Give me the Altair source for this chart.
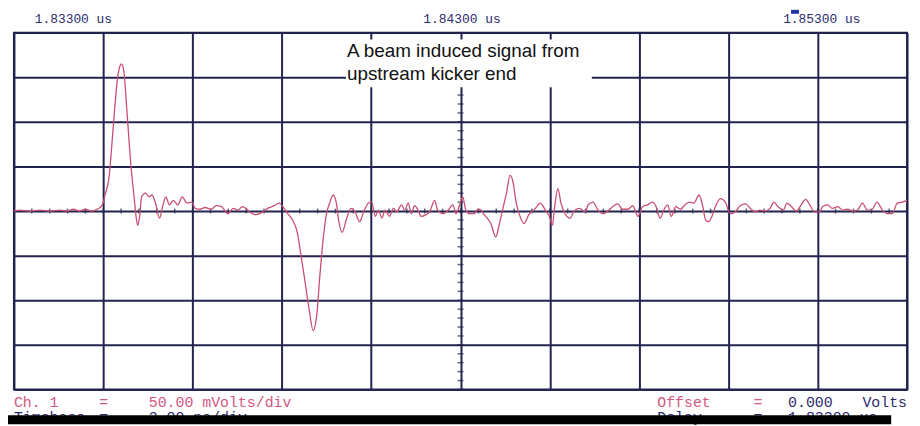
import altair as alt
import pandas as pd

# ---- data (time in ns after 1.83300 us, signal in mV) ----
time_ns = [0.00, 0.13, 0.36, 0.58, 0.80, 1.02, 1.20, 1.33, 1.47, 1.60, 1.73, 1.86, 1.98, 2.04,
           2.13, 2.20, 2.24, 2.32, 2.37, 2.40, 2.44, 2.46, 2.54, 2.61, 2.69, 2.74, 2.77, 2.81,
           2.86, 2.95, 3.02, 3.09, 3.17, 3.26, 3.33, 3.40, 3.48, 3.57, 3.67, 3.77, 3.87, 3.98,
           4.06, 4.17, 4.28, 4.42, 4.53, 4.65, 4.79, 4.91, 5.02, 5.11, 5.22, 5.28, 5.42, 5.57,
           5.68, 5.83, 5.94, 6.02, 6.13, 6.24, 6.35, 6.42, 6.50, 6.61, 6.70, 6.78, 6.85, 6.93,
           7.00, 7.07, 7.15, 7.22, 7.27, 7.35, 7.44, 7.55, 7.64, 7.74, 7.83, 7.94, 8.01, 8.09,
           8.16, 8.24, 8.31, 8.41, 8.50, 8.57, 8.68, 8.75, 8.83, 8.90, 8.97, 9.05, 9.12, 9.23,
           9.31, 9.42, 9.49, 9.61, 9.72, 9.83, 9.90, 9.97, 10.05, 10.12, 10.21, 10.31, 10.39,
           10.46, 10.53, 10.60, 10.68, 10.79, 10.86, 10.94, 11.03, 11.11, 11.17, 11.25, 11.32,
           11.42, 11.53, 11.64, 11.71, 11.79, 11.90, 11.99, 12.06, 12.10, 12.18, 12.25, 12.34,
           12.45, 12.56, 12.67, 12.79, 12.86, 12.97, 13.08, 13.19, 13.30, 13.41, 13.52, 13.63,
           13.75, 13.86, 13.97, 14.08, 14.19, 14.30, 14.38, 14.47, 14.56, 14.64, 14.72, 14.82,
           14.93, 15.01, 15.12, 15.23, 15.34, 15.41, 15.49, 15.56, 15.63, 15.71, 15.82, 15.93,
           16.04, 16.15, 16.26, 16.38, 16.49, 16.60, 16.71, 16.82, 16.93, 17.02, 17.11, 17.23,
           17.31, 17.41, 17.52, 17.63, 17.73, 17.82, 17.93, 18.04, 18.11, 18.22, 18.33, 18.45,
           18.56, 18.67, 18.78, 18.89, 19.00, 19.11, 19.22, 19.33, 19.45, 19.56, 19.67, 19.78,
           19.89, 20.00]
volt_mv = [0, 1, 0, 1, 0, 1, 0, 2, 0, 2, 0, 2, 7, 18,
           38, 79, 105, 149, 162, 165, 162, 157, 105, 57, 16, -8, -16, -8,
           16, 20, 16, 18, 9, -8, 5, 16, 7, 12, 7, 16, 9, 10,
           3, 2, 4, 2, 6, 5, -3, 3, 1, 5, 2, -1, -4, -1,
           3, 6, 9, 5, -3, -10, -25, -47, -73, -110, -134, -117, -73, -29,
           -3, 9, 18, 9, -10, -24, -10, 3, -1, -12, -1, 9, 10, -6,
           1, -8, 1, -6, 3, -1, 7, 1, 9, -3, 6, 1, -6, -4,
           -1, 12, 1, -3, 1, 7, -3, 5, 16, 1, -3, -3, 2,
           1, -4, -8, -14, -29, -17, 1, 20, 40, 34, 9, -4,
           -14, -4, 1, 5, 9, 1, -6, -16, 1, 25, 9, -3,
           -8, 1, 3, -1, 7, 10, 1, -3, 0, 5, 8, 2,
           2, 6, -6, 5, 7, 10, 5, -8, 2, 7, -6, 5,
           2, 6, 10, 9, 18, 9, -10, -12, -6, 5, 14, 10,
           -3, -1, 6, 8, 3, -1, 1, 0, 3, 10, 5, 1,
           9, 5, 0, 7, 13, 7, -1, -1, 5, 7, 3, 5,
           1, 2, 0, 1, 9, 1, 2, 10, 1, -3, -3, 9,
           10, 12]

x_divisions = [0, 2, 4, 6, 8, 10, 12, 14, 16, 18, 20]          # 2 ns/div
y_divisions = [-200, -150, -100, -50, 0, 50, 100, 150, 200]     # 50 mV/div
x_minor = [round(i * 0.4, 2) for i in range(51)]                # 5 minor marks per division
y_minor = [-200 + i * 10 for i in range(41)]

top_labels = ["1.83300 us", "1.84300 us", "1.85300 us"]
note_lines = ["A beam induced signal from", "upstream kicker end"]

GRID = "#23234f"
TRACE = "#c94f72"
NAVY = "#2b2b6e"
PINK = "#d2587f"

df = pd.DataFrame({"t": time_ns, "v": volt_mv})
xs = alt.Scale(domain=[0, 20], nice=False, zero=False)
ys = alt.Scale(domain=[-200, 200], nice=False)

x_axis = alt.Axis(values=x_divisions, grid=True, gridColor=GRID, gridWidth=2, gridOpacity=1,
                  labels=False, ticks=False, domain=False, title=None, zindex=0)
y_axis = alt.Axis(values=y_divisions, grid=True, gridColor=GRID, gridWidth=2, gridOpacity=1,
                  labels=False, ticks=False, domain=False, title=None, zindex=0)

base_grid = alt.Chart(df).mark_point(opacity=0).encode(
    x=alt.X("t:Q", scale=xs, axis=x_axis),
    y=alt.Y("v:Q", scale=ys, axis=y_axis),
)

hticks = alt.Chart(pd.DataFrame({"t": x_minor, "v": [0] * len(x_minor)})).mark_tick(
    orient="vertical", size=5, thickness=1.5, color=GRID
).encode(x=alt.X("t:Q", scale=xs), y=alt.Y("v:Q", scale=ys))

vticks = alt.Chart(pd.DataFrame({"t": [10] * len(y_minor), "v": y_minor})).mark_tick(
    orient="horizontal", size=6, thickness=1.5, color=GRID
).encode(x=alt.X("t:Q", scale=xs), y=alt.Y("v:Q", scale=ys))

trace = alt.Chart(df).mark_line(color=TRACE, strokeWidth=1.3, interpolate="monotone").encode(
    x=alt.X("t:Q", scale=xs), y=alt.Y("v:Q", scale=ys)
)

one = alt.Data(values=[{"k": 1}])


def rect(x1, x2, y1, y2, color):
    return alt.Chart(one).mark_rect(color=color).encode(
        x=alt.value(x1), x2=alt.value(x2), y=alt.value(y1), y2=alt.value(y2))


def txt(s, x, y, color, size, font, align="left"):
    return alt.Chart(one).mark_text(text=s, align=align, baseline="alphabetic", font=font,
                                    fontSize=size, color=color).encode(
        x=alt.value(x), y=alt.value(y))


MONO = "Liberation Mono"
SANS = "Liberation Sans"

layers = [
    base_grid,
    hticks, vticks,
    rect(335, 583, 7, 55, "white"),
    trace,
    txt(note_lines[0], 336, 25, "#111111", 19, SANS),
    txt(note_lines[1], 336, 48, "#111111", 19, SANS),
    txt(top_labels[0], 21, -10, NAVY, 13, MONO),
    txt(top_labels[1], 452, -10, NAVY, 13, MONO, "center"),
    txt(top_labels[2], 776, -10, NAVY, 13, MONO),
    rect(784, 792, -23, -19, "#2233aa"),
    txt("Ch. 1", 0, 378, PINK, 15, MONO),
    txt("=", 86, 378, PINK, 15, MONO),
    txt("50.00 mVolts/div", 136, 378, PINK, 15, MONO),
    txt("Timebase", 0, 393, NAVY, 15, MONO),
    txt("=", 86, 393, NAVY, 15, MONO),
    txt("2.00 ns/div", 136, 393, NAVY, 15, MONO),
    txt("Offset", 649, 378, PINK, 15, MONO),
    txt("=", 746, 378, PINK, 15, MONO),
    txt("0.000", 781, 378, NAVY, 15, MONO),
    txt("Volts", 856, 378, NAVY, 15, MONO),
    txt("Delay", 649, 393, NAVY, 15, MONO),
    txt("=", 746, 393, NAVY, 15, MONO),
    txt("1.83300 us", 781, 393, NAVY, 15, MONO),
    rect(-6, 885, 386, 395, "black"),
]

chart = alt.layer(*layers).properties(
    width=901, height=360,
    autosize=alt.AutoSizeParams(type="none"),
    padding={"left": 6, "top": 23, "right": 5, "bottom": 35},
    background="white",
).configure_view(stroke=GRID, strokeWidth=2)

chart.save("out.html", embed_options={"renderer": "svg", "actions": False})
